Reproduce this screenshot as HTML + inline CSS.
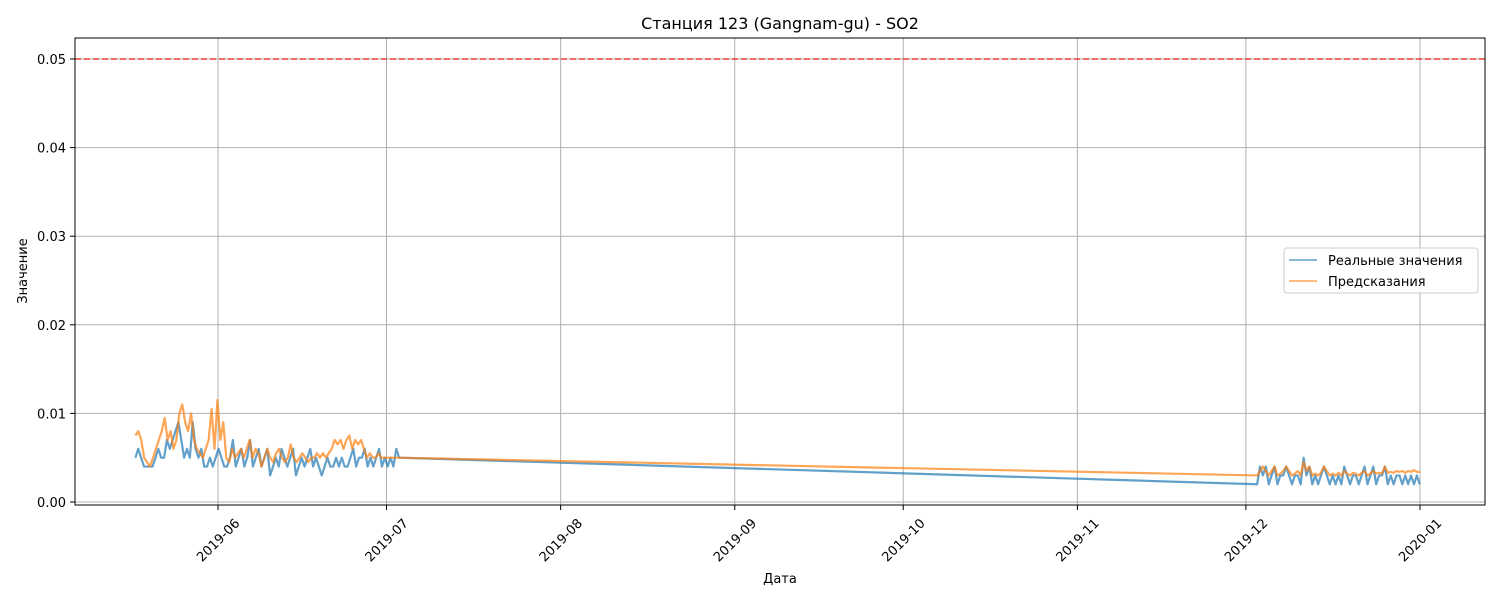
<!DOCTYPE html>
<html><head><meta charset="utf-8"><style>
body{margin:0;background:#fff}
text{font-family:"DejaVu Sans","Liberation Sans",sans-serif;fill:#000}
</style></head><body>
<svg id="c" width="1500" height="600" xmlns="http://www.w3.org/2000/svg"></svg>
<script>
// data (values in 0.001 units)
const seg1Start = "2019-05-17T07:00", seg1End = "2019-07-03T06:00";
const seg1Actual = [5,6,5,4,4,4,4,5,6,5,5,7,6,7,8,9,7,5,6,5,9,6,5,6,4,4,5,4,5,6,5,4,4,5,7,4,5,6,4,5,7,4,5,6,4,5,6,3,4,5,4,6,5,4,5,6,3,4,5,4,5,6,4,5,4,3,4,5,4,4,5,4,5,4,4,5,6,4,5,5,6,4,5,4,5,6,4,5,4,5,4,6,5];
const seg1Pred = [7.5,8,7,5,4.5,4,5,6,7,8,9.5,7,8,6,7,10,11,9,8,10,7,6,5.5,5,6,7,10.5,6,11.5,7,9,5,4.5,6,5,5.5,6,5,6,7,5,6,5.5,4,5,6,5,4.5,5.5,6,5,4.5,5,6.5,5,4.5,5,5.5,5,4.5,5,5,5.5,5,5.5,5,5.5,6,7,6.5,7,6,7,7.5,6,7,6.5,7,6,5,5.5,5,5,5.5,5,5,5,5,5,5,5];
const seg2Start = "2019-12-03T00:00", seg2End = "2019-12-31T23:00";
const seg2Actual = [2,4,3,4,2,3,4,2,3,3,4,3,2,3,3,2,5,3,4,2,3,2,3,4,3,2,3,2,3,2,4,3,2,3,3,2,3,4,2,3,4,2,3,3,4,2,3,2,3,3,2,3,2,3,2,3,2];
const seg2Pred = [3,3.5,4,3.5,3,3.5,4,3,3.2,3.5,4,3.5,3,3.2,3.5,3,4.5,3.5,4,3,3.2,3,3.3,4,3.5,3,3.2,3,3.3,3,3.5,3.2,3,3.3,3.2,3,3.3,3.5,3,3.2,3.5,3.2,3.3,3.2,4,3.3,3.4,3.3,3.5,3.4,3.5,3.3,3.5,3.4,3.6,3.4,3.4];
const thresholdValue = 0.05;
const xTickLabels = ["2019-06","2019-07","2019-08","2019-09","2019-10","2019-11","2019-12","2020-01"];
const yTickValues = [0,0.01,0.02,0.03,0.04,0.05];

const svg = document.getElementById('c');
const NS = "http://www.w3.org/2000/svg";
const L=75,R=1485,T=38,B=505;
const t0 = Date.parse("2019-06-01T00:00Z"), t1 = Date.parse("2020-01-01T00:00Z");
const x = d => 218 + (Date.parse(d+(d.length>10?"Z":"-01T00:00Z"))-t0)/(t1-t0)*(1420-218);
const xm = ms => 218 + (ms-t0)/(t1-t0)*(1420-218);
const y = v => 502 - v/0.05*(502-59);
function el(tag, attrs, parent){const e=document.createElementNS(NS,tag);for(const k in attrs)e.setAttribute(k,attrs[k]);(parent||svg).appendChild(e);return e;}

// grid
xTickLabels.forEach(lb=>{
  const g=el('line',{x1:x(lb),x2:x(lb),y1:T,y2:B,stroke:'#b0b0b0','stroke-width':1});
  
  
  const tk=el('line',{x1:x(lb),x2:x(lb),y1:B,y2:B+5,stroke:'#000'});
  
  
  const tx=el('text',{x:0,y:0,dy:'0.35em','font-size':13,'text-anchor':'middle',transform:`translate(${x(lb)},${B+35}) rotate(-45)`});
  tx.textContent=lb;
  
  
});
yTickValues.forEach(v=>{
  const g=el('line',{x1:L,x2:R,y1:y(v),y2:y(v),stroke:'#b0b0b0','stroke-width':1});
  
  
  const tk=el('line',{x1:L-5,x2:L,y1:y(v),y2:y(v),stroke:'#000'});
  
  
  const tx=el('text',{x:L-9,y:y(v)+5,'font-size':13,'text-anchor':'end'});
  tx.textContent=v.toFixed(2);
  
  
});

function pts(start,end,vals){
  const a=Date.parse(start+"Z"),b=Date.parse(end+"Z");
  return vals.map((v,i)=>[xm(a+(b-a)*i/(vals.length-1)), y(v/1000)]);
}
function series(a1,a2,color,name){
  const p=pts(seg1Start,seg1End,a1).concat(pts(seg2Start,seg2End,a2));
  const pl=el('polyline',{points:p.map(q=>q.join(',')).join(' '),fill:'none',stroke:color,'stroke-width':2.2,'stroke-opacity':0.7,'stroke-linejoin':'round'});
  
  
}
series(seg1Actual,seg2Actual,'#1f77b4','actual-line');
series(seg1Pred,seg2Pred,'#ff7f0e','prediction-line');

const th=el('line',{x1:L,x2:R,y1:y(thresholdValue),y2:y(thresholdValue),stroke:'#ff0000','stroke-opacity':0.7,'stroke-width':1.5,'stroke-dasharray':'6,3'});



const fr=el('rect',{x:L,y:T,width:R-L,height:B-T,fill:'none',stroke:'#000','stroke-width':1});



const title=el('text',{x:780,y:29,'font-size':16,'text-anchor':'middle'});
title.textContent='Станция 123 (Gangnam-gu) - SO2';


const xt=el('text',{x:780,y:583,'font-size':13,'text-anchor':'middle'});
xt.textContent='Дата';


const yt=el('text',{x:0,y:0,'font-size':13,'text-anchor':'middle',transform:'translate(27,271) rotate(-90)'});
yt.textContent='Значение';



// legend
const lg=el('g',{});


el('rect',{x:1284,y:248,width:194,height:45,rx:3,fill:'#fff','fill-opacity':0.8,stroke:'#ccc'},lg);
[['#1f77b4','Реальные значения',260],['#ff7f0e','Предсказания',281]].forEach(([c,t,yy])=>{
  const ln=el('line',{x1:1289,x2:1317,y1:yy,y2:yy,stroke:c,'stroke-width':1.5,'stroke-opacity':0.7},lg);
  
  
  const tx=el('text',{x:1328,y:yy+5,'font-size':13},lg);
  tx.textContent=t;
  
  
});
</script>
</body></html>
